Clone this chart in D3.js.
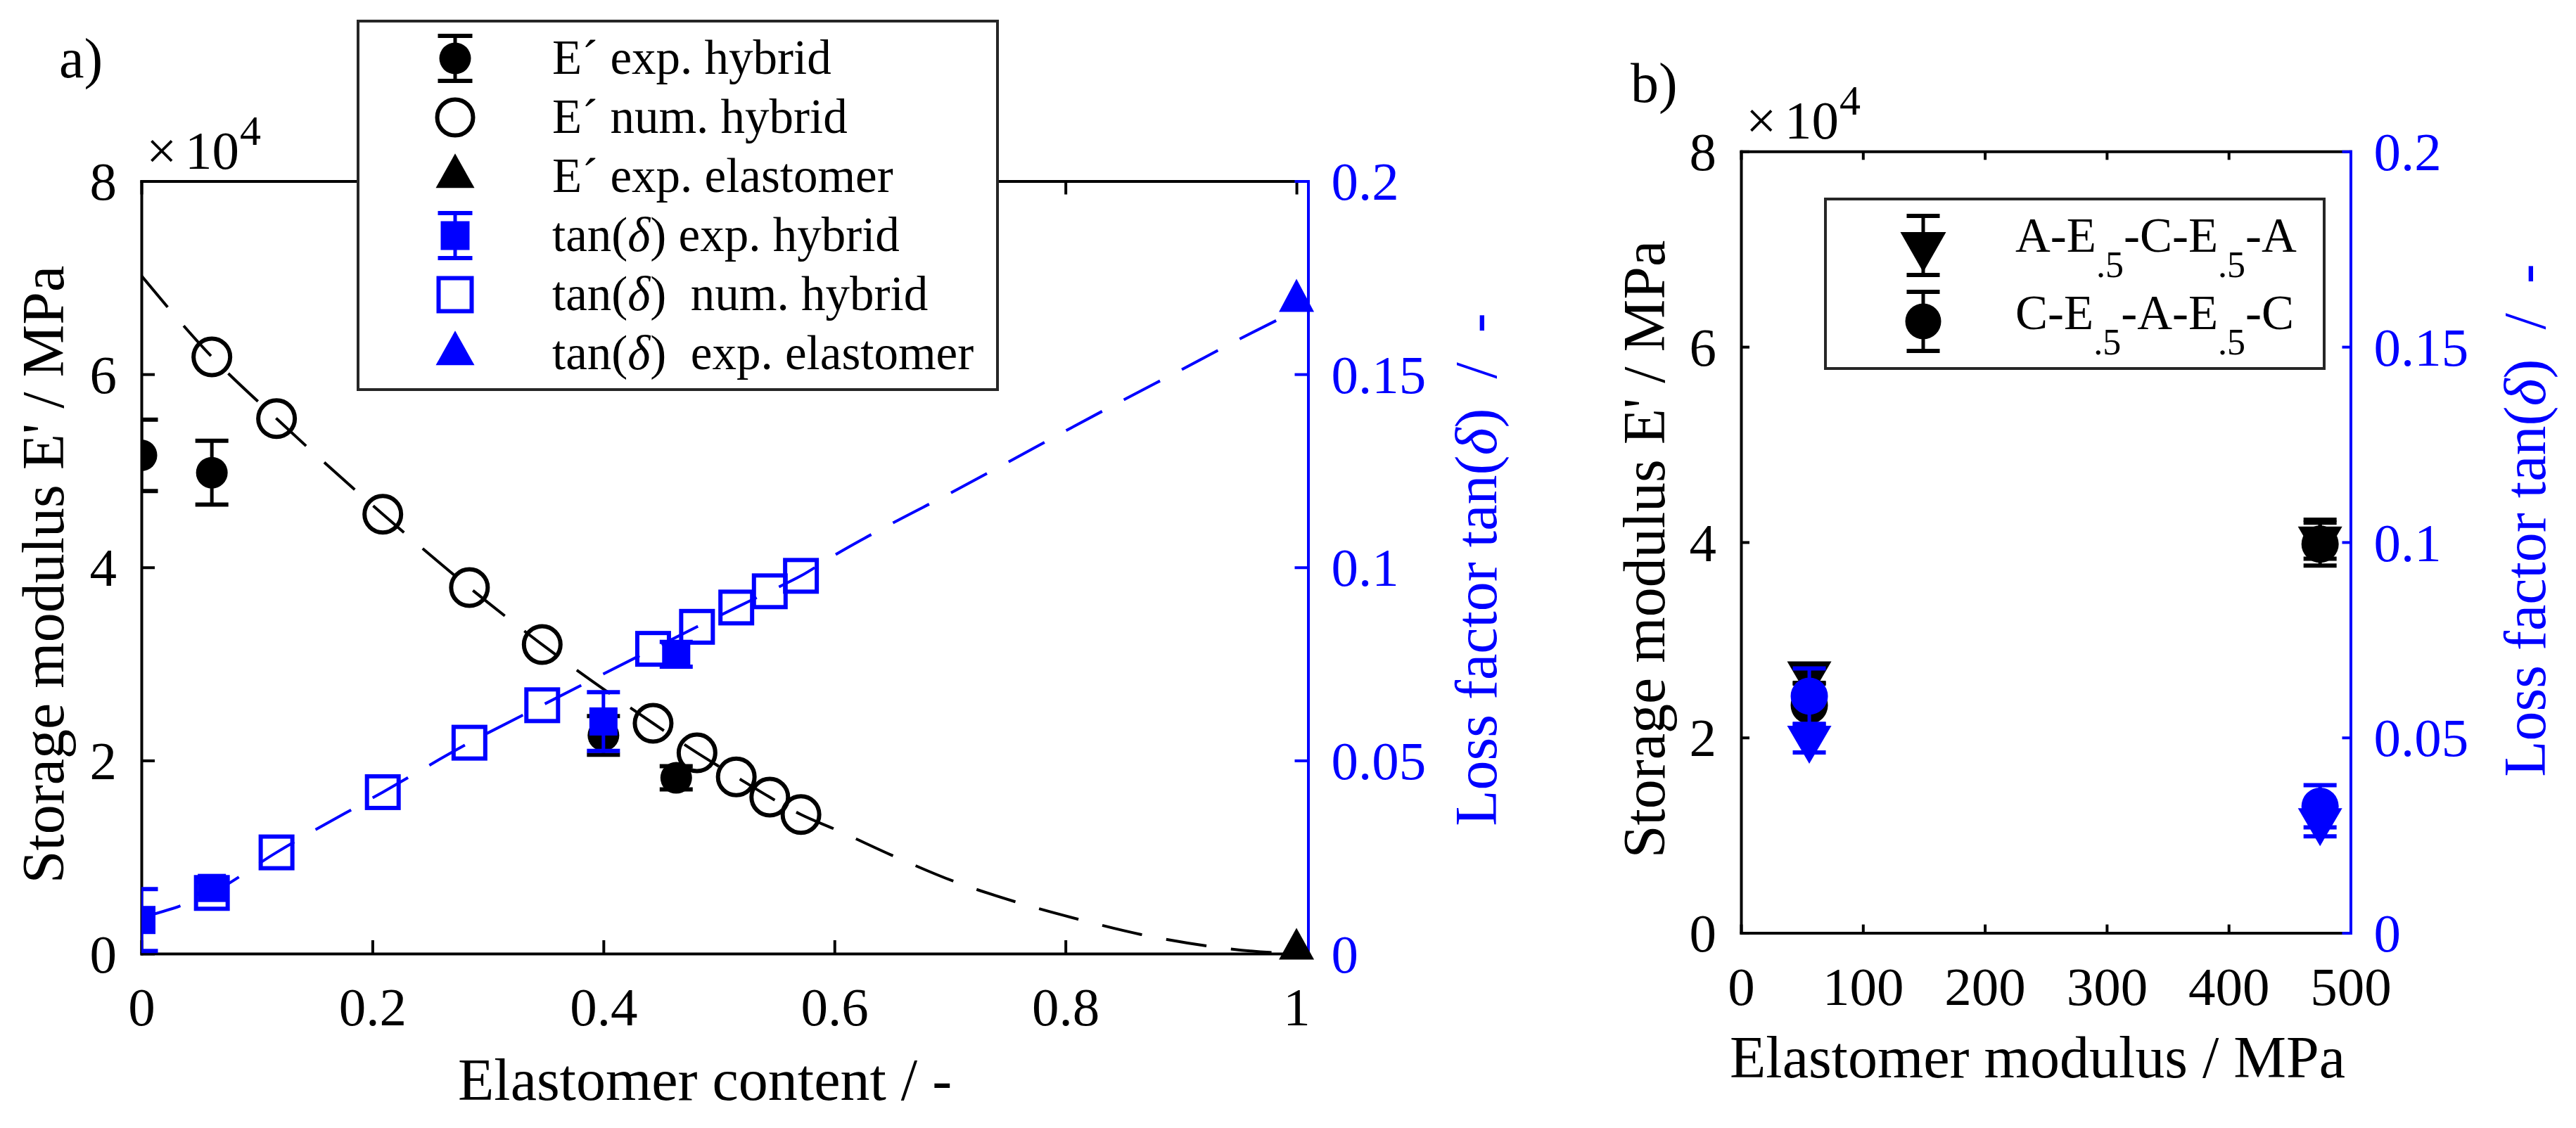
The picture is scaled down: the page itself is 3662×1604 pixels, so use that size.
<!DOCTYPE html>
<html>
<head>
<meta charset="utf-8">
<script src="https://cdn.jsdelivr.net/npm/d3@7.9.0/dist/d3.min.js"></script>
<style>
  body { margin: 0; background: #fff; }
  svg { display: block; }
  text { font-family: "Liberation Serif", "Times New Roman", serif; white-space: pre; }
</style>
</head>
<body>
<svg id="chart" width="3662" height="1604"></svg>
<script>
// ---------- panel a : storage modulus in 1e4 MPa, loss factor in - ----------
const contentNum = [0.061, 0.117, 0.209, 0.284, 0.347, 0.443, 0.481, 0.515, 0.544, 0.571];
const storageNum = [6.18, 5.54, 4.55, 3.79, 3.20, 2.385, 2.08, 1.83, 1.62, 1.44];
const lossNum = [0.0157, 0.0262, 0.0418, 0.0546, 0.0643, 0.0789, 0.0846, 0.0896, 0.0938, 0.0978];

const contentExp = [0, 0.061, 0.4, 0.463];
const storageExp = [5.16, 4.98, 2.26, 1.82];
const storageExpErr = [0.37, 0.33, 0.2, 0.12];
const lossExp = [0.0087, 0.0170, 0.0601, 0.0775];
const lossExpErr = [0.008, 0.0015, 0.0076, 0.0032];

const contentElastomer = [1];
const storageElastomer = [0.0475];
const lossElastomer = [0.169];

// dashed trend curves
const fitContent = [0, 0.061, 0.117, 0.209, 0.284, 0.347, 0.443, 0.481, 0.515, 0.544, 0.571,
  0.601, 0.652, 0.703, 0.756, 0.812, 0.865, 0.921, 0.977, 1.0];
const storageFit = [7.02, 6.18, 5.54, 4.55, 3.79, 3.20, 2.385, 2.08, 1.83, 1.62, 1.44,
  1.285, 1.006, 0.75, 0.539, 0.353, 0.199, 0.082, 0.012, 0.0];
const lossFitContent = [0, 0.061, 0.117, 0.209, 0.284, 0.347, 0.443, 0.481, 0.515, 0.544, 0.571,
  0.601, 0.650, 0.699, 0.750, 0.800, 0.850, 0.900, 0.950, 1.0];
const lossFit = [0.0093, 0.0157, 0.0262, 0.0418, 0.0546, 0.0643, 0.0789, 0.0846, 0.0896, 0.0938, 0.0978,
  0.1033, 0.1114, 0.119, 0.1272, 0.1353, 0.1433, 0.1511, 0.159, 0.1665];

const xTicksA = [0, 0.2, 0.4, 0.6, 0.8, 1];
const yTicks = [0, 2, 4, 6, 8];
const rTicks = [0, 0.05, 0.1, 0.15, 0.2];
const legendLabelsA = ['E´ exp. hybrid', 'E´ num. hybrid', 'E´ exp. elastomer',
  'tan(δ) exp. hybrid', 'tan(δ)  num. hybrid', 'tan(δ)  exp. elastomer'];

// ---------- panel b ----------
const elastModulus = [56, 475];
const storageAECEA = [2.65, 4.03];
const storageAECEAErr = [0.1, 0.2];
const storageCEAEC = [2.33, 3.98];
const storageCEAECErr = [0.23, 0.22];
const lossAECEA = [0.0498, 0.0287];
const lossAECEAErr = [0.0036, 0.004];
const lossCEAEC = [0.0606, 0.0324];
const lossCEAECErr = [0.0071, 0.0054];
const xTicksB = [0, 100, 200, 300, 400, 500];
const legendLabelsB = ['A-E_{.5}-C-E_{.5}-A', 'C-E_{.5}-A-E_{.5}-C'];

const svg = d3.select('#chart');
const blue = '#0000ff';
const serif = '"Liberation Serif", "Times New Roman", serif';
const tickFont = 77, labelFont = 84, legendFont = 69;

function triPath(w, h, up) {
  // centroid sits at the origin
  let a = up ? -2 * h / 3 : 2 * h / 3;
  let b = up ? h / 3 : -h / 3;
  return `M0,${a}L${w / 2},${b}L${-w / 2},${b}Z`;
}
function dot(g, x, y, r, color) {
  g.append('circle').attr('cx', x).attr('cy', y).attr('r', r).attr('fill', color);
}
function ring(g, x, y, r, color) {
  g.append('circle').attr('cx', x).attr('cy', y).attr('r', r)
    .attr('fill', 'none').attr('stroke', color).attr('stroke-width', 6);
}
function box(g, x, y, s, color, filled) {
  g.append('rect').attr('x', x - s / 2).attr('y', y - s / 2).attr('width', s).attr('height', s)
    .attr('fill', filled ? color : 'none')
    .attr('stroke', filled ? 'none' : color).attr('stroke-width', 6);
}
function tri(g, x, y, w, h, color, up) {
  g.append('path').attr('transform', `translate(${x},${y})`).attr('d', triPath(w, h, up)).attr('fill', color);
}
function errBar(g, x, y1, y2, cap, color) {
  g.append('line').attr('x1', x).attr('x2', x).attr('y1', y1).attr('y2', y2)
    .attr('stroke', color).attr('stroke-width', 5);
  [y1, y2].forEach(y => {
    g.append('line').attr('x1', x - cap / 2).attr('x2', x + cap / 2).attr('y1', y).attr('y2', y)
      .attr('stroke', color).attr('stroke-width', 6);
  });
}

function drawAxes(g, x, yl, yr, xTicks, tick) {
  let [xa, xb] = x.range();
  let [ya, yb] = yl.range();
  let fmt = d3.format('~g');
  let bottom = g.append('g').attr('transform', `translate(0,${ya})`).attr('color', '#000')
    .call(d3.axisBottom(x).tickValues(xTicks).tickSizeInner(-tick).tickSizeOuter(0).tickFormat(fmt));
  bottom.selectAll('text').attr('y', 102).attr('dy', null);
  let top = g.append('g').attr('transform', `translate(0,${yb})`).attr('color', '#000')
    .call(d3.axisTop(x).tickValues(xTicks).tickSizeInner(-tick).tickSizeOuter(0).tickFormat(''));
  let left = g.append('g').attr('transform', `translate(${xa},0)`).attr('color', '#000')
    .call(d3.axisLeft(yl).tickValues(yTicks).tickSizeInner(-tick).tickSizeOuter(0).tickFormat(fmt));
  left.selectAll('text').attr('x', -35).attr('dy', '0.34em');
  let right = g.append('g').attr('transform', `translate(${xb},0)`).attr('color', blue)
    .call(d3.axisRight(yr).tickValues(rTicks).tickSizeInner(-tick).tickSizeOuter(0).tickFormat(fmt));
  right.selectAll('text').attr('x', 33).attr('dy', '0.34em');
  [bottom, top, left, right].forEach(a => {
    a.attr('font-size', tickFont).attr('font-family', serif);
    a.selectAll('.tick line').attr('stroke-width', 4);
    a.select('.domain').attr('stroke-width', 4).attr('stroke-linecap', 'square');
  });
  // x 10^4 multiplier
  g.append('text').attr('x', xa + 7).attr('y', yb - 18).attr('font-size', tickFont).text('×');
  g.append('text').attr('x', xa + 62).attr('y', yb - 18).attr('font-size', tickFont).text('10');
  g.append('text').attr('x', xa + 140).attr('y', yb - 52).attr('font-size', 60).text('4');
}

function richText(t, str) {
  str.split('δ').forEach((part, i) => {
    if (i > 0) t.append('tspan').attr('font-style', 'italic').text('δ');
    t.append('tspan').text(part);
  });
}
function subText(t, str) {
  let shift = 0;
  str.split(/_\{(.*?)\}/).forEach((part, i) => {
    if (i % 2 === 1) {
      t.append('tspan').attr('dy', 36).attr('font-size', 52).text(part);
      shift = -36;
    } else {
      t.append('tspan').attr('dy', shift).text(part);
      shift = 0;
    }
  });
}
function yLabel(g, x, y, color, build) {
  let t = g.append('text').attr('transform', `translate(${x},${y}) rotate(-90)`)
    .attr('text-anchor', 'middle').attr('font-size', labelFont).attr('fill', color);
  build(t);
}

// ================= panel a =================
const xA = d3.scaleLinear().domain([0, 1.01]).range([201, 1859.5]);
const yA = d3.scaleLinear().domain([0, 8]).range([1356, 257.5]);
const rA = d3.scaleLinear().domain([0, 0.2]).range([1356, 257.5]);

let gA = svg.append('g');
drawAxes(gA, xA, yA, rA, xTicksA, 19);

svg.append('clipPath').attr('id', 'clipA').append('rect')
  .attr('x', 201).attr('y', 0).attr('width', 1700).attr('height', 1604);
let plotA = gA.append('g').attr('clip-path', 'url(#clipA)');

let storageLine = d3.line().x(d => xA(d[0])).y(d => yA(d[1])).curve(d3.curveMonotoneX);
let lossLine = d3.line().x(d => xA(d[0])).y(d => rA(d[1])).curve(d3.curveMonotoneX);

plotA.append('path').attr('d', storageLine(d3.zip(fitContent, storageFit)))
  .attr('fill', 'none').attr('stroke', '#000').attr('stroke-width', 4).attr('stroke-dasharray', '58 35');

contentExp.forEach((c, i) => {
  errBar(plotA, xA(c), yA(storageExp[i] + storageExpErr[i]), yA(storageExp[i] - storageExpErr[i]), 47, '#000');
  dot(plotA, xA(c), yA(storageExp[i]), 22.5, '#000');
});
contentNum.forEach((c, i) => ring(plotA, xA(c), yA(storageNum[i]), 26, '#000'));
contentElastomer.forEach((c, i) => tri(plotA, xA(c), yA(storageElastomer[i]), 50, 45, '#000', true));

plotA.append('path').attr('d', lossLine(d3.zip(lossFitContent, lossFit)))
  .attr('fill', 'none').attr('stroke', blue).attr('stroke-width', 4).attr('stroke-dasharray', '58 35');

contentExp.forEach((c, i) => {
  errBar(plotA, xA(c), rA(lossExp[i] + lossExpErr[i]), rA(lossExp[i] - lossExpErr[i]), 47, blue);
  box(plotA, xA(c), rA(lossExp[i]), 40, blue, true);
});
contentNum.forEach((c, i) => box(plotA, xA(c), rA(lossNum[i]), 45, blue, false));
contentElastomer.forEach((c, i) => tri(plotA, xA(c), rA(lossElastomer[i]), 50, 47, blue, true));

// labels
gA.append('text').attr('x', 651).attr('y', 1564).attr('font-size', labelFont).text('Elastomer content / -');
yLabel(gA, 90, 817, '#000', t => t.text("Storage modulus E' / MPa"));
yLabel(gA, 2127, 810, blue, t => richText(t, 'Loss factor tan(δ)  /  -'));
gA.append('text').attr('x', 84).attr('y', 110).attr('font-size', 80)
  .attr('font-family', '"Liberation Sans", Arial, sans-serif').text('a)');

// legend a
let legA = svg.append('g');
legA.append('rect').attr('x', 509).attr('y', 30).attr('width', 909).attr('height', 524)
  .attr('fill', '#fff').attr('stroke', '#262626').attr('stroke-width', 4);
legendLabelsA.forEach((label, i) => {
  let y = 83 + 84 * i;
  let mx = 647;
  if (i === 0) { errBar(legA, mx, y - 32, y + 32, 49, '#000'); dot(legA, mx, y, 22.5, '#000'); }
  if (i === 1) ring(legA, mx, y, 25.5, '#000');
  if (i === 2) tri(legA, mx, y, 55, 49, '#000', true);
  if (i === 3) { errBar(legA, mx, y - 32, y + 32, 49, blue); box(legA, mx, y, 41, blue, true); }
  if (i === 4) box(legA, mx, y, 47, blue, false);
  if (i === 5) tri(legA, mx, y, 55, 49, blue, true);
  let t = legA.append('text').attr('x', 785).attr('y', y + 22).attr('font-size', legendFont);
  richText(t, label);
});

// ================= panel b =================
const xB = d3.scaleLinear().domain([0, 500]).range([2475, 3341.5]);
const yB = d3.scaleLinear().domain([0, 8]).range([1326.6, 215.3]);
const rB = d3.scaleLinear().domain([0, 0.2]).range([1326.6, 215.3]);

let gB = svg.append('g');
drawAxes(gB, xB, yB, rB, xTicksB, 12);

elastModulus.forEach((m, i) => {
  errBar(gB, xB(m), yB(storageAECEA[i] + storageAECEAErr[i]), yB(storageAECEA[i] - storageAECEAErr[i]), 47, '#000');
  tri(gB, xB(m), yB(storageAECEA[i]), 63, 54, '#000', false);
});
elastModulus.forEach((m, i) => {
  errBar(gB, xB(m), yB(storageCEAEC[i] + storageCEAECErr[i]), yB(storageCEAEC[i] - storageCEAECErr[i]), 47, '#000');
  dot(gB, xB(m), yB(storageCEAEC[i]), 26.5, '#000');
});
elastModulus.forEach((m, i) => {
  errBar(gB, xB(m), rB(lossAECEA[i] + lossAECEAErr[i]), rB(lossAECEA[i] - lossAECEAErr[i]), 47, blue);
  tri(gB, xB(m), rB(lossAECEA[i]), 63, 54, blue, false);
});
elastModulus.forEach((m, i) => {
  errBar(gB, xB(m), rB(lossCEAEC[i] + lossCEAECErr[i]), rB(lossCEAEC[i] - lossCEAECErr[i]), 47, blue);
  dot(gB, xB(m), rB(lossCEAEC[i]), 26.5, blue);
});

gB.append('text').attr('x', 2459).attr('y', 1532).attr('font-size', labelFont).text('Elastomer modulus / MPa');
yLabel(gB, 2366, 781, '#000', t => t.text("Storage modulus E' / MPa"));
yLabel(gB, 3618, 740, blue, t => richText(t, 'Loss factor tan(δ)  /  -'));
gB.append('text').attr('x', 2318).attr('y', 145).attr('font-size', 80)
  .attr('font-family', '"Liberation Sans", Arial, sans-serif').text('b)');

// legend b
let legB = svg.append('g');
legB.append('rect').attr('x', 2595).attr('y', 283).attr('width', 709).attr('height', 241)
  .attr('fill', '#fff').attr('stroke', '#262626').attr('stroke-width', 4);
legendLabelsB.forEach((label, i) => {
  let y = 349 + 108 * i;
  let mx = 2734;
  errBar(legB, mx, y - 42, y + 42, 47, '#000');
  if (i === 0) tri(legB, mx, y, 65, 57, '#000', false);
  else dot(legB, mx, y, 25.5, '#000');
  let t = legB.append('text').attr('x', 2865).attr('y', y + 9 + 2 * i).attr('font-size', legendFont);
  subText(t, label);
});
</script>
</body>
</html>
